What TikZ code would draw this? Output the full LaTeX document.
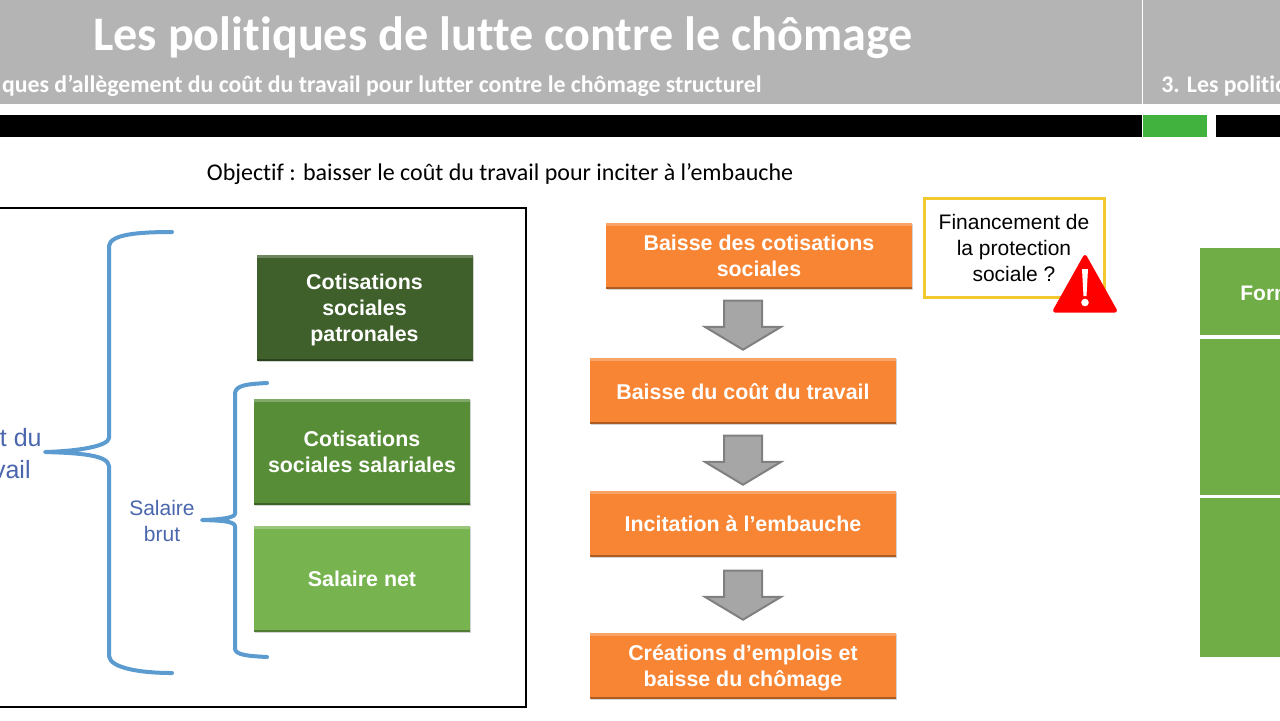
\documentclass[tikz,border=0pt]{standalone}
\usepackage{fontspec}
\setmainfont{Liberation Sans}
\newfontfamily\carlito[Ligatures=NoCommon]{Carlito}
\usetikzlibrary{shapes.arrows,shadows}
\definecolor{headgray}{HTML}{B4B4B4}
\definecolor{barorange}{HTML}{F88534}
\definecolor{darkgreen}{HTML}{3F602B}
\definecolor{midgreen}{HTML}{578D36}
\definecolor{lightgreen}{HTML}{77B450}
\definecolor{sidegreen}{HTML}{70AD47}
\definecolor{bargreen}{HTML}{41B23E}
\definecolor{bracecol}{HTML}{5B9BD0}
\definecolor{labelblue}{HTML}{4A66AC}
\definecolor{warnyellow}{HTML}{F2C92F}
\tikzset{
    bevelbox/.style={rectangle, fill=#1, inner sep=0pt, text depth=0pt,
        align=center, text=white, font=\fontsize{10.7}{13}\selectfont\bfseries,
        drop shadow={shadow xshift=.7pt, shadow yshift=-.7pt, opacity=.35},
        path picture={
            \fill[white, opacity=.25] (path picture bounding box.north west)
                rectangle ([yshift=-1.5pt]path picture bounding box.north east);
            \fill[black, opacity=.3] (path picture bounding box.south west)
                rectangle ([yshift=1pt]path picture bounding box.south east);}},
    orangebox/.style={bevelbox=barorange, minimum width=153pt, minimum height=33pt},
    greenbox/.style={bevelbox=#1, minimum width=108pt, minimum height=53pt},
    downarrow/.style={shape=single arrow, rotate=-90, fill=black!35, draw=black!50, line width=1pt,
        minimum height=24.5pt, minimum width=37pt, text height=18pt, text depth=0pt, text width=0pt,
        single arrow head extend=9.5pt, single arrow tip angle=118, inner sep=0pt},
    bluebrace/.style={draw=bracecol, line width=2pt, line cap=round, line join=round},
    bluetext/.style={text=labelblue, align=center}
}
\begin{document}
\begin{tikzpicture}[x=.5pt, y=-.5pt]
    \useasboundingbox (0,0) rectangle (1280,720);
    \clip (0,0) rectangle (1280,720);

    % header
    \fill[headgray] (0,0) rectangle (1280,104);
    \draw[white, line width=.6pt] (1142.5,0) -- (1142.5,104);
    \fill[black] (0,115) rectangle (1142,137);
    \fill[bargreen] (1143,115) rectangle (1207,137);
    \fill[black] (1216,115) rectangle (1280,137);
    \node[text=white, font=\carlito\bfseries\fontsize{24.1}{26}\selectfont] (title) at (503,38) {Les politiques de lutte contre le chômage};
    \node[text=white, font=\carlito\bfseries\fontsize{11.9}{13}\selectfont, anchor=east, inner sep=0pt] (subtitle) at (762,86) {ques d’allègement du coût du travail pour lutter contre le chômage structurel};
    \node[text=white, font=\carlito\bfseries\fontsize{11.9}{13}\selectfont, anchor=west, inner sep=0pt] (nextpart) at (1161,86) {3. Les politic};
    \node[font=\carlito\fontsize{12}{14}\selectfont] (objectif) at (500,174) {Objectif : baisser le coût du travail pour inciter à l’embauche};

    % left frame
    \draw[black, line width=1.2pt] (-10,208) rectangle (526,707);
    \node[greenbox=darkgreen] (patronales) at (364.5,307.5) {Cotisations\\sociales\\patronales};
    \node[greenbox=midgreen] (salariales) at (362,452) {Cotisations\\sociales salariales};
    \node[greenbox=lightgreen] (net) at (362,578.5) {Salaire net};

    % braces
    \coordinate (bigtop) at (172,232);
    \coordinate (bigtip) at (45,452);
    \coordinate (bigbottom) at (172,673);
    \draw[bluebrace] (bigtop) .. controls (140,232) and (110,234) .. (109,246) -- (109,438)
        .. controls (108,446) and (80,451) .. (bigtip)
        .. controls (80,453) and (108,455) .. (109,466) -- (109,656)
        .. controls (110,668) and (140,673) .. (bigbottom);
    \coordinate (smalltop) at (267,383);
    \coordinate (smalltip) at (202,520);
    \coordinate (smallbottom) at (267,657);
    \draw[bluebrace] (smalltop) .. controls (248,384) and (236,385) .. (235,393) -- (235,514)
        .. controls (234,518) and (220,519.5) .. (smalltip)
        .. controls (220,520.5) and (234,521) .. (235,526) -- (235,649)
        .. controls (236,655) and (248,656) .. (smallbottom);
    \node[bluetext, font=\fontsize{12.5}{16}\selectfont, anchor=east, inner sep=0pt] (coutdu) at (42,438) {t du};
    \node[bluetext, font=\fontsize{12.5}{16}\selectfont, anchor=east, inner sep=0pt] (travail) at (31,470) {vail};
    \node[bluetext, font=\fontsize{10.5}{13}\selectfont, inner sep=0pt] (brut) at (162,521) {Salaire\\brut};

    % chain of orange boxes
    \node[orangebox] (cotis) at (759,256) {Baisse des cotisations\\sociales};
    \node[orangebox] (cout) at (743,391) {Baisse du coût du travail};
    \node[orangebox] (incit) at (743,524) {Incitation à l’embauche};
    \node[orangebox] (emploi) at (743,665.5) {Créations d’emplois et\\baisse du chômage};
    \node[downarrow] (arrowa) at (743,319.5) {};
    \node[downarrow] (arrowb) at (743,454.5) {};
    \node[downarrow] (arrowc) at (743,589.5) {};

    % warning
    \node[draw=warnyellow, line width=1.5pt, fill=white, minimum width=90pt, minimum height=49.5pt, inner sep=0pt, align=center, font=\fontsize{10.5}{13}\selectfont] (finance) at (1014,247.5) {Financement de\\la protection\\sociale ?};
    \filldraw[red, line width=2pt, line join=round] (1085,257) -- (1115,310.5) -- (1055,310.5) -- cycle;
    \fill[white] (1082,269) -- (1088,269) -- (1086.5,296) -- (1083.5,296) -- cycle;
    \fill[white] (1085,302.5) circle (3.8);

    % right blocks
    \fill[sidegreen] (1200,248) rectangle (1280,335);
    \fill[sidegreen] (1200,339) rectangle (1280,495);
    \fill[sidegreen] (1200,498) rectangle (1280,657);
    \node[text=white, font=\fontsize{10.5}{13}\selectfont\bfseries, anchor=west, inner sep=0pt] (form) at (1240,293) {Form};
\end{tikzpicture}
\end{document}
